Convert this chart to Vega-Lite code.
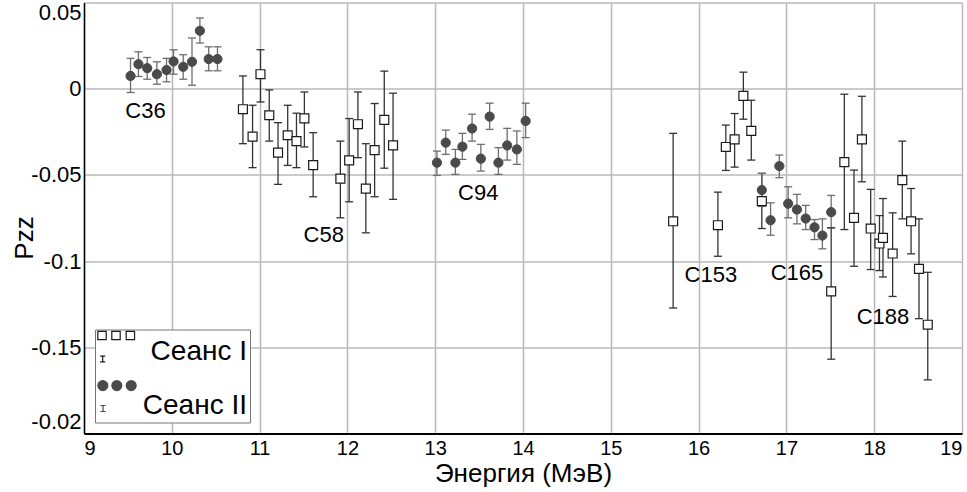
{
  "$schema": "https://vega.github.io/schema/vega-lite/v6.json",
  "width": 878,
  "height": 431,
  "autosize": {"type": "none"},
  "padding": {"left": 84, "top": 2.5, "right": 5, "bottom": 58.5},
  "background": "white",
  "config": {"view": {"stroke": null}},
  "datasets": {
    "pts": [
      {"s": "Сеанс I", "e": 10.81, "p": -0.0119, "lo": -0.0319, "hi": 0.0074},
      {"s": "Сеанс I", "e": 10.92, "p": -0.0278, "lo": -0.0458, "hi": -0.0096},
      {"s": "Сеанс I", "e": 11.01, "p": 0.0084, "lo": -0.0077, "hi": 0.0226},
      {"s": "Сеанс I", "e": 11.11, "p": -0.0154, "lo": -0.0304, "hi": -0.0007},
      {"s": "Сеанс I", "e": 11.21, "p": -0.0371, "lo": -0.0555, "hi": -0.0197},
      {"s": "Сеанс I", "e": 11.32, "p": -0.0270, "lo": -0.0445, "hi": -0.0096},
      {"s": "Сеанс I", "e": 11.42, "p": -0.0304, "lo": -0.0458, "hi": -0.0142},
      {"s": "Сеанс I", "e": 11.51, "p": -0.0172, "lo": -0.0338, "hi": -0.0019},
      {"s": "Сеанс I", "e": 11.61, "p": -0.0443, "lo": -0.0627, "hi": -0.0255},
      {"s": "Сеанс I", "e": 11.92, "p": -0.0522, "lo": -0.0749, "hi": -0.0304},
      {"s": "Сеанс I", "e": 12.02, "p": -0.0416, "lo": -0.0656, "hi": -0.0173},
      {"s": "Сеанс I", "e": 12.12, "p": -0.0206, "lo": -0.0400, "hi": -0.0019},
      {"s": "Сеанс I", "e": 12.21, "p": -0.0580, "lo": -0.0836, "hi": -0.0319},
      {"s": "Сеанс I", "e": 12.31, "p": -0.0356, "lo": -0.0627, "hi": -0.0086},
      {"s": "Сеанс I", "e": 12.42, "p": -0.0181, "lo": -0.0461, "hi": 0.0102},
      {"s": "Сеанс I", "e": 12.52, "p": -0.0329, "lo": -0.0642, "hi": -0.0026},
      {"s": "Сеанс I", "e": 15.71, "p": -0.0769, "lo": -0.1272, "hi": -0.0259},
      {"s": "Сеанс I", "e": 16.22, "p": -0.0792, "lo": -0.0972, "hi": -0.0600},
      {"s": "Сеанс I", "e": 16.31, "p": -0.0338, "lo": -0.0474, "hi": -0.0211},
      {"s": "Сеанс I", "e": 16.41, "p": -0.0294, "lo": -0.0455, "hi": -0.0144},
      {"s": "Сеанс I", "e": 16.51, "p": -0.0042, "lo": -0.0177, "hi": 0.0096},
      {"s": "Сеанс I", "e": 16.60, "p": -0.0245, "lo": -0.0414, "hi": -0.0067},
      {"s": "Сеанс I", "e": 16.72, "p": -0.0652, "lo": -0.0811, "hi": -0.0491},
      {"s": "Сеанс I", "e": 17.51, "p": -0.1176, "lo": -0.1569, "hi": -0.0807},
      {"s": "Сеанс I", "e": 17.66, "p": -0.0426, "lo": -0.0817, "hi": -0.0032},
      {"s": "Сеанс I", "e": 17.77, "p": -0.0749, "lo": -0.1030, "hi": -0.0472},
      {"s": "Сеанс I", "e": 17.86, "p": -0.0294, "lo": -0.0540, "hi": -0.0044},
      {"s": "Сеанс I", "e": 17.96, "p": -0.0811, "lo": -0.1049, "hi": -0.0584},
      {"s": "Сеанс I", "e": 18.06, "p": -0.0898, "lo": -0.1055, "hi": -0.0736},
      {"s": "Сеанс I", "e": 18.10, "p": -0.0865, "lo": -0.1092, "hi": -0.0637},
      {"s": "Сеанс I", "e": 18.21, "p": -0.0956, "lo": -0.1205, "hi": -0.0720},
      {"s": "Сеанс I", "e": 18.32, "p": -0.0530, "lo": -0.0755, "hi": -0.0304},
      {"s": "Сеанс I", "e": 18.42, "p": -0.0769, "lo": -0.0958, "hi": -0.0579},
      {"s": "Сеанс I", "e": 18.51, "p": -0.1045, "lo": -0.1334, "hi": -0.0755},
      {"s": "Сеанс I", "e": 18.61, "p": -0.1369, "lo": -0.1689, "hi": -0.1065},
      {"s": "Сеанс II", "e": 9.53, "p": 0.0074, "lo": -0.0022, "hi": 0.0176},
      {"s": "Сеанс II", "e": 9.62, "p": 0.0142, "lo": 0.0071, "hi": 0.0214},
      {"s": "Сеанс II", "e": 9.72, "p": 0.0119, "lo": 0.0055, "hi": 0.0181},
      {"s": "Сеанс II", "e": 9.83, "p": 0.0084, "lo": 0.0026, "hi": 0.0156},
      {"s": "Сеанс II", "e": 9.94, "p": 0.0108, "lo": 0.0040, "hi": 0.0176},
      {"s": "Сеанс II", "e": 10.02, "p": 0.0158, "lo": 0.0084, "hi": 0.0226},
      {"s": "Сеанс II", "e": 10.13, "p": 0.0127, "lo": 0.0055, "hi": 0.0197},
      {"s": "Сеанс II", "e": 10.23, "p": 0.0156, "lo": 0.0020, "hi": 0.0294},
      {"s": "Сеанс II", "e": 10.32, "p": 0.0336, "lo": 0.0265, "hi": 0.0410},
      {"s": "Сеанс II", "e": 10.42, "p": 0.0172, "lo": 0.0104, "hi": 0.0243},
      {"s": "Сеанс II", "e": 10.52, "p": 0.0172, "lo": 0.0104, "hi": 0.0243},
      {"s": "Сеанс II", "e": 13.02, "p": -0.0429, "lo": -0.0503, "hi": -0.0362},
      {"s": "Сеанс II", "e": 13.12, "p": -0.0313, "lo": -0.0381, "hi": -0.0240},
      {"s": "Сеанс II", "e": 13.23, "p": -0.0429, "lo": -0.0497, "hi": -0.0352},
      {"s": "Сеанс II", "e": 13.31, "p": -0.0336, "lo": -0.0410, "hi": -0.0259},
      {"s": "Сеанс II", "e": 13.42, "p": -0.0231, "lo": -0.0304, "hi": -0.0148},
      {"s": "Сеанс II", "e": 13.52, "p": -0.0406, "lo": -0.0478, "hi": -0.0323},
      {"s": "Сеанс II", "e": 13.62, "p": -0.0162, "lo": -0.0236, "hi": -0.0084},
      {"s": "Сеанс II", "e": 13.72, "p": -0.0429, "lo": -0.0497, "hi": -0.0342},
      {"s": "Сеанс II", "e": 13.82, "p": -0.0329, "lo": -0.0414, "hi": -0.0230},
      {"s": "Сеанс II", "e": 13.93, "p": -0.0352, "lo": -0.0439, "hi": -0.0245},
      {"s": "Сеанс II", "e": 14.03, "p": -0.0187, "lo": -0.0284, "hi": -0.0084},
      {"s": "Сеанс II", "e": 16.72, "p": -0.0588, "lo": -0.0683, "hi": -0.0491},
      {"s": "Сеанс II", "e": 16.82, "p": -0.0763, "lo": -0.0850, "hi": -0.0662},
      {"s": "Сеанс II", "e": 16.92, "p": -0.0449, "lo": -0.0516, "hi": -0.0385},
      {"s": "Сеанс II", "e": 17.02, "p": -0.0667, "lo": -0.0749, "hi": -0.0569},
      {"s": "Сеанс II", "e": 17.12, "p": -0.0701, "lo": -0.0784, "hi": -0.0613},
      {"s": "Сеанс II", "e": 17.22, "p": -0.0753, "lo": -0.0817, "hi": -0.0677},
      {"s": "Сеанс II", "e": 17.32, "p": -0.0804, "lo": -0.0875, "hi": -0.0759},
      {"s": "Сеанс II", "e": 17.41, "p": -0.0852, "lo": -0.0929, "hi": -0.0755},
      {"s": "Сеанс II", "e": 17.51, "p": -0.0716, "lo": -0.0807, "hi": -0.0619}
    ],
    "lbl": [
      {"t": "C36", "e": 9.70, "p": -0.0129},
      {"t": "C58", "e": 11.73, "p": -0.0846},
      {"t": "C94", "e": 13.49, "p": -0.0603},
      {"t": "C153", "e": 16.14, "p": -0.1078},
      {"t": "C165", "e": 17.12, "p": -0.1067},
      {"t": "C188", "e": 18.10, "p": -0.1324}
    ]
  },
  "encoding": {
    "x": {
      "field": "e", "type": "quantitative",
      "scale": {"domain": [9, 19], "nice": false, "zero": false},
      "axis": {
        "values": [9, 10, 11, 12, 13, 14, 15, 16, 17, 18, 19],
        "format": "d",
        "grid": true, "gridColor": "#b8b8b8", "gridWidth": 1.5,
        "ticks": false,
        "domainColor": "black", "domainWidth": 2,
        "labelFont": "Liberation Sans", "labelFontSize": 20, "labelColor": "black",
        "labelPadding": 5, "labelFlush": true,
        "title": "Энергия (МэВ)", "titleFont": "Liberation Sans", "titleFontSize": 26,
        "titleFontWeight": "normal", "titleColor": "black", "titlePadding": 2
      }
    }
  },
  "layer": [
    {
      "data": {"name": "pts"},
      "mark": {"type": "rule", "strokeWidth": 1.3},
      "encoding": {
        "y": {
          "field": "lo", "type": "quantitative", "title": "Pzz",
          "scale": {"domain": [-0.2, 0.05], "nice": false, "zero": false},
          "axis": {
            "values": [0.05, 0, -0.05, -0.1, -0.15, -0.2],
            "labelExpr": "datum.value < -0.19 ? '-0.02' : toString(round(datum.value*100)/100)",
            "grid": true, "gridColor": "#b8b8b8", "gridWidth": 1.5,
            "ticks": false,
            "domainColor": "black", "domainWidth": 1.5,
            "labelFont": "Liberation Sans", "labelFontSize": 22, "labelColor": "black",
            "labelPadding": 3, "labelFlush": true,
            "titleFont": "Liberation Sans", "titleFontSize": 26, "titleFontWeight": "normal",
            "titleColor": "black", "titleX": -52, "titleY": 235, "titleAngle": 270,
            "titleBaseline": "alphabetic", "titleAlign": "center"
          }
        },
        "y2": {"field": "hi"},
        "color": {"field": "s", "type": "nominal", "legend": null,
          "scale": {"domain": ["Сеанс II", "Сеанс I"], "range": ["#6e6e6e", "#333333"]}}
      }
    },
    {
      "data": {"name": "pts"},
      "mark": {"type": "tick", "orient": "horizontal", "size": 8, "thickness": 1.3, "opacity": 1},
      "encoding": {
        "y": {"field": "lo", "type": "quantitative", "title": "Pzz"},
        "color": {"field": "s", "type": "nominal", "legend": null}
      }
    },
    {
      "data": {"name": "pts"},
      "mark": {"type": "tick", "orient": "horizontal", "size": 8, "thickness": 1.3, "opacity": 1},
      "encoding": {
        "y": {"field": "hi", "type": "quantitative", "title": "Pzz"},
        "color": {"field": "s", "type": "nominal", "legend": null}
      }
    },
    {
      "data": {"name": "pts"},
      "transform": [{"filter": "datum.s == 'Сеанс I'"}],
      "mark": {"type": "point", "shape": "square", "filled": true, "size": 80, "fill": "white", "stroke": "#1a1a1a", "strokeWidth": 1.2, "opacity": 1},
      "encoding": {
        "y": {"field": "p", "type": "quantitative", "title": "Pzz"}
      }
    },
    {
      "data": {"name": "pts"},
      "transform": [{"filter": "datum.s == 'Сеанс II'"}],
      "mark": {"type": "point", "shape": "circle", "filled": true, "size": 85, "fill": "#4a4a4a", "stroke": "#4a4a4a", "strokeWidth": 1, "opacity": 1},
      "encoding": {
        "y": {"field": "p", "type": "quantitative", "title": "Pzz"}
      }
    },
    {
      "data": {"name": "pts"},
      "transform": [{"filter": "false"}],
      "mark": {"type": "point", "filled": true, "strokeWidth": 1.2, "opacity": 1},
      "encoding": {
        "y": {"field": "p", "type": "quantitative", "title": "Pzz"},
        "shape": {"field": "s", "type": "nominal",
          "scale": {"domain": ["Сеанс I", "Сеанс II"], "range": [
            "M-1.066,-1.122h0.466v0.466h-0.466ZM-0.289,-1.122h0.466v0.466h-0.466ZM0.509,-1.122h0.466v0.466h-0.466ZM-0.933,0.261H-0.655M-0.794,0.261V0.572M-0.933,0.572H-0.655",
            "M-0.511,-1.111l-0.037,0.139l-0.102,0.102l-0.139,0.037l-0.139,-0.037l-0.102,-0.102l-0.037,-0.139l0.037,-0.139l0.102,-0.102l0.139,-0.037l0.139,0.037l0.102,0.102ZM0.267,-1.111l-0.037,0.139l-0.102,0.102l-0.139,0.037l-0.139,-0.037l-0.102,-0.102l-0.037,-0.139l0.037,-0.139l0.102,-0.102l0.139,-0.037l0.139,0.037l0.102,0.102ZM1.067,-1.111l-0.037,0.139l-0.102,0.102l-0.139,0.037l-0.139,-0.037l-0.102,-0.102l-0.037,-0.139l0.037,-0.139l0.102,-0.102l0.139,-0.037l0.139,0.037l0.102,0.102ZM-0.917,0H-0.639M-0.778,0V0.333M-0.917,0.333H-0.639"
          ]},
          "legend": {
            "title": null, "orient": "bottom-left", "offset": 11, "padding": 3,
            "symbolSize": 1296, "symbolStrokeWidth": 1.2,
            "labelFont": "Liberation Sans", "labelFontSize": 28, "labelColor": "black",
            "labelAlign": "right", "labelOffset": 111,
            "rowPadding": 12, "strokeColor": "#777777", "fillColor": "white",
            "encode": {"legend": {"update": {"strokeWidth": {"value": 1.5}}}}
          }
        },
        "fill": {"field": "s", "type": "nominal",
          "scale": {"domain": ["Сеанс I", "Сеанс II"], "range": ["white", "#4a4a4a"]}},
        "stroke": {"field": "s", "type": "nominal",
          "scale": {"domain": ["Сеанс I", "Сеанс II"], "range": ["#1a1a1a", "#4a4a4a"]}}
      }
    },
    {
      "data": {"name": "lbl"},
      "mark": {"type": "text", "font": "Liberation Sans", "fontSize": 22, "color": "black", "align": "center", "baseline": "middle"},
      "encoding": {
        "y": {"field": "p", "type": "quantitative", "title": "Pzz"},
        "text": {"field": "t"}
      }
    },
    {
      "data": {"values": [{}]},
      "mark": {"type": "rule", "color": "black", "strokeWidth": 2},
      "encoding": {"x": {"datum": 19}}
    }
  ]
}
